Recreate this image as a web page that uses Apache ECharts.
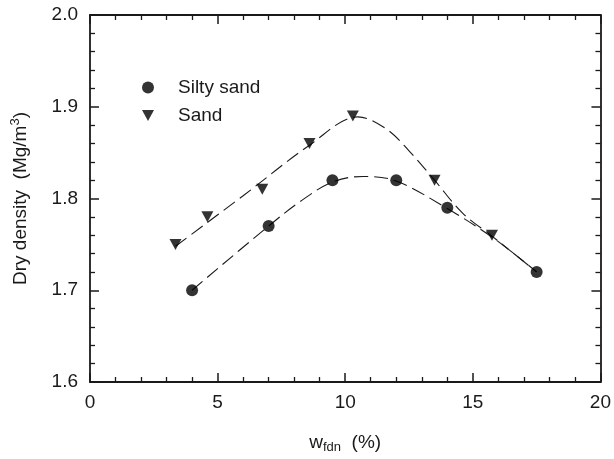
<!DOCTYPE html>
<html>
<head>
<meta charset="utf-8">
<script src="https://cdn.jsdelivr.net/npm/echarts@6/dist/echarts.min.js"></script>
<style>html,body{margin:0;padding:0;background:#fff;}#c{width:614px;height:459px;}</style>
</head>
<body>
<div id="c"></div>
<script>
// measured points
const siltySandX = [4.0, 7.0, 9.5, 12.0, 14.0, 17.5];
const siltySandY = [1.70, 1.77, 1.82, 1.82, 1.79, 1.72];
const sandX = [3.35, 4.6, 6.75, 8.6, 10.3, 13.5, 15.75];
const sandY = [1.75, 1.78, 1.81, 1.86, 1.89, 1.82, 1.76];
// fitted dashed curves
const siltyCurveX = [4.0, 7.0, 8.3, 9.5, 10.7, 12.0, 14.0, 15.8, 17.5];
const siltyCurveY = [1.70, 1.77, 1.798, 1.818, 1.824, 1.819, 1.789, 1.757, 1.72];
const sandCurveX = [3.35, 6.0, 8.6, 10.5, 11.6, 12.5, 13.5, 14.6, 15.75, 17.5];
const sandCurveY = [1.748, 1.803, 1.858, 1.889, 1.876, 1.852, 1.82, 1.784, 1.759, 1.72];
const xTicks = [0, 5, 10, 15, 20];
const yTicks = [1.6, 1.7, 1.8, 1.9, 2.0];

const zip = (a, b) => a.map((v, i) => [v, b[i]]);
const downTri = 'path://M0,0 L10,0 L5,9 Z';
const ink = '#1a1a1a';
const font = 'Liberation Sans, Arial, sans-serif';
const fs = 19;

const axisCommon = {
  axisLine: { show: true, onZero: false, lineStyle: { color: ink, width: 1.8 } },
  axisTick: { show: true, inside: true, length: 9, lineStyle: { color: ink, width: 1.5 } },
  minorTick: { show: true, splitNumber: 5, length: 5, lineStyle: { color: ink, width: 1.3 } },
  splitLine: { show: false }
};

const chart = echarts.init(document.getElementById('c'), null, { renderer: 'canvas' });
chart.setOption({
  backgroundColor: '#fff',
  animation: false,
  grid: { left: 90, right: 12, top: 15, bottom: 76 },
  legend: {
    orient: 'vertical', left: 137, top: 73, itemWidth: 12, itemHeight: 12, itemGap: 9,
    textStyle: { color: ink, fontSize: fs, fontFamily: font, padding: [0, 0, 0, 19] },
    data: [
      { name: 'Silty sand', icon: 'circle' },
      { name: 'Sand', icon: downTri }
    ]
  },
  xAxis: [
    Object.assign({
      type: 'value', min: xTicks[0], max: xTicks[xTicks.length - 1], interval: 5,
      axisLabel: { color: ink, fontSize: fs, fontFamily: font, margin: 11 },
      name: '{a|w}{b|fdn}{a|  (%)}', nameLocation: 'middle', nameGap: 49,
      nameTextStyle: { rich: {
        a: { fontSize: fs, color: ink, fontFamily: font },
        b: { fontSize: 13, color: ink, fontFamily: font, verticalAlign: 'bottom', padding: [10, 0, 0, 0] }
      } }
    }, axisCommon),
    Object.assign({
      type: 'value', position: 'top', min: 0, max: 20, interval: 5,
      axisLabel: { show: false }
    }, axisCommon)
  ],
  yAxis: [
    Object.assign({
      type: 'value', position: 'left', min: yTicks[0], max: yTicks[yTicks.length - 1], interval: 0.1,
      axisLabel: { color: ink, fontSize: fs, fontFamily: font, margin: 12, formatter: v => v.toFixed(1) },
      name: '{a|Dry density  (Mg/m}{s|3}{a|)}', nameLocation: 'middle', nameGap: 58, nameRotate: 90,
      nameTextStyle: { rich: {
        a: { fontSize: fs, color: ink, fontFamily: font },
        s: { fontSize: 13, color: ink, fontFamily: font, verticalAlign: 'top', padding: [0, 0, 10, 0] }
      } }
    }, axisCommon),
    Object.assign({
      type: 'value', position: 'right', min: 1.6, max: 2.0, interval: 0.1,
      axisLabel: { show: false }
    }, axisCommon)
  ],
  series: [
    {
      name: 'silty-curve', type: 'line', data: zip(siltyCurveX, siltyCurveY), smooth: 0.35,
      showSymbol: false, symbol: 'none', silent: true,
      lineStyle: { color: ink, width: 1.1, type: [14, 6] }, z: 2
    },
    {
      name: 'sand-curve', type: 'line', data: zip(sandCurveX, sandCurveY), smooth: 0.35,
      showSymbol: false, symbol: 'none', silent: true,
      lineStyle: { color: ink, width: 1.1, type: [14, 6] }, z: 2
    },
    {
      name: 'Silty sand', type: 'scatter', data: zip(siltySandX, siltySandY),
      symbol: 'circle', symbolSize: 12, itemStyle: { color: '#000' }, z: 3
    },
    {
      name: 'Sand', type: 'scatter', data: zip(sandX, sandY),
      symbol: downTri, symbolSize: [12, 11], itemStyle: { color: '#000' }, z: 3
    }
  ]
});
</script>
</body>
</html>
